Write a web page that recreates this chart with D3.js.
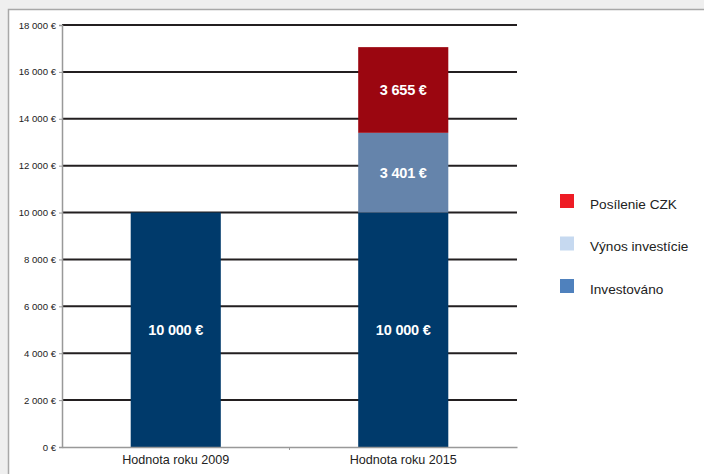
<!DOCTYPE html>
<html>
<head>
<meta charset="utf-8">
<script src="https://cdn.jsdelivr.net/npm/d3@7"></script>
<style>
  body { margin: 0; background: #efefef; }
  svg { display: block; font-family: "Liberation Sans", Arial, sans-serif; }
</style>
</head>
<body>
<script>
// data
const categories = ["Hodnota roku 2009", "Hodnota roku 2015"]
const seriesNames = ["Investováno", "Výnos investície", "Posílenie CZK"]
const investovano = [10000, 10000]
const vynos = [0, 3401]
const posilenie = [0, 3655]
const yTicks = [0, 2000, 4000, 6000, 8000, 10000, 12000, 14000, 16000, 18000]

const barColors = ["#003a6b", "#6584ab", "#9b0610"]
const legendColors = ["#4f81bd", "#c6d9f0", "#ee1c25"]

const width = 704, height = 474
const margin = ({ top: 25, right: 187, bottom: 27, left: 62 })

const fmt = v => d3.format(",")(v).replace(/,/g, " ") + " €"

const rows = categories.map((c, i) => ({
    cat: c,
    [seriesNames[0]]: investovano[i],
    [seriesNames[1]]: vynos[i],
    [seriesNames[2]]: posilenie[i]
}))
const stacked = d3.stack().keys(seriesNames)(rows)

const svg = d3.select("body").append("svg")
    .attr("width", width)
    .attr("height", height)

// frame
svg.append("rect")
    .attr("x", 8.5).attr("y", 9.5)
    .attr("width", width).attr("height", height)
    .attr("fill", "#fff")
    .attr("stroke", "#a8a8a8")
    .attr("stroke-width", 1.5)

const x = d3.scaleBand()
    .domain(categories)
    .range([margin.left, width - margin.right])
    .paddingInner(0.604)
    .paddingOuter(0.302)

const y = d3.scaleLinear()
    .domain([0, 18000])
    .range([height - margin.bottom, margin.top])

// gridlines
svg.append("g")
    .selectAll("line")
    .data(yTicks.slice(1))
    .join("line")
    .attr("x1", margin.left)
    .attr("x2", width - margin.right)
    .attr("y1", d => y(d))
    .attr("y2", d => y(d))
    .attr("stroke", "#231f20")
    .attr("stroke-width", 2)

// bars
svg.append("g")
    .selectAll("g")
    .data(stacked)
    .join("g")
    .attr("fill", (d, i) => barColors[i])
    .selectAll("rect")
    .data(d => d)
    .join("rect")
    .attr("x", d => x(d.data.cat))
    .attr("y", d => y(d[1]))
    .attr("height", d => y(d[0]) - y(d[1]))
    .attr("width", x.bandwidth())

// bar labels
svg.append("g")
    .selectAll("g")
    .data(stacked)
    .join("g")
    .selectAll("text")
    .data(d => d.filter(s => s[1] - s[0] > 0))
    .join("text")
    .attr("x", d => x(d.data.cat) + x.bandwidth() / 2)
    .attr("y", d => (y(d[0]) + y(d[1])) / 2)
    .attr("dy", "0.35em")
    .attr("text-anchor", "middle")
    .attr("fill", "#fff")
    .attr("font-weight", "bold")
    .attr("font-size", 14.5)
    .attr("letter-spacing", -0.2)
    .text(d => fmt(d[1] - d[0]))

// y axis
svg.append("g")
    .attr("transform", `translate(${margin.left}, 0)`)
    .call(d3.axisLeft(y).tickValues(yTicks).tickFormat(fmt).tickSize(3).tickPadding(3))
    .call(g => g.select(".domain").attr("stroke", "#999").attr("stroke-width", 1.5))
    .call(g => g.selectAll(".tick line").attr("stroke", "#999"))
    .call(g => g.selectAll(".tick text").attr("font-size", 9.6).attr("fill", "#222")
        .attr("font-family", "'Liberation Sans', Arial, sans-serif"))

// x axis
svg.append("g")
    .attr("transform", `translate(0, ${height - margin.bottom})`)
    .call(d3.axisBottom(x).tickSize(0).tickPadding(8))
    .call(g => g.select(".domain").attr("stroke", "#999").attr("stroke-width", 1.5))
    .call(g => g.selectAll(".tick text").attr("font-size", 12.6).attr("fill", "#222")
        .attr("font-family", "'Liberation Sans', Arial, sans-serif"))
    .call(g => g.append("line")
        .attr("x1", x.step() + margin.left).attr("x2", x.step() + margin.left)
        .attr("y1", 0).attr("y2", 3)
        .attr("stroke", "#999"))

// legend
const legend = svg.append("g")
    .selectAll("g")
    .data(seriesNames.map((n, i) => ({ n, i })).reverse())
    .join("g")
    .attr("transform", (d, j) => `translate(560, ${194 + j * 42.5})`)

legend.append("rect")
    .attr("width", 14).attr("height", 14)
    .attr("fill", d => legendColors[d.i])

legend.append("text")
    .attr("x", 30).attr("y", 14.5)
    .attr("font-size", 13.6)
    .attr("fill", "#222")
    .text(d => d.n)
</script>
</body>
</html>
